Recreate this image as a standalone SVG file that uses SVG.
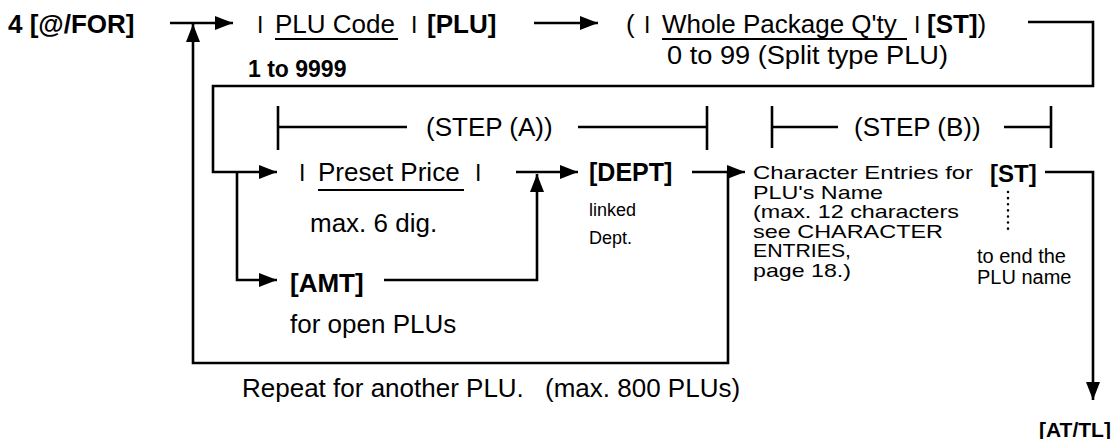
<svg xmlns="http://www.w3.org/2000/svg" width="1115" height="439" viewBox="0 0 1115 439">
<defs>
<marker id="ah" markerUnits="userSpaceOnUse" viewBox="0 0 18 14" refX="18" refY="7" markerWidth="18" markerHeight="14" orient="auto"><path d="M0,0 L18,7 L0,14 z" fill="#000"/></marker>
<style>
text{font-family:"Liberation Sans",Arial,sans-serif;fill:#000}
.b{font-weight:bold}
.m{font-size:26px}
.sm{font-size:19px}
.bar{font-size:23px}
.ln{fill:none;stroke:#000;stroke-width:2.6}
.u{stroke:#000;stroke-width:1.8}
.br{stroke:#000;stroke-width:2.6}
</style>
</defs>
<rect width="1115" height="439" fill="#fff"/>
<g id="connectors" class="ln">
<path d="M170,23 H233" marker-end="url(#ah)"/>
<path d="M534,23 H598" marker-end="url(#ah)"/>
<path d="M1028,22 H1093 V86 H213 V172 H277" marker-end="url(#ah)"/>
<path d="M237,172 V280 H277" marker-end="url(#ah)"/>
<path d="M516,172 H578" marker-end="url(#ah)"/>
<path d="M384,280 H537 V174" marker-end="url(#ah)"/>
<path d="M692,172 H745" marker-end="url(#ah)"/>
<path d="M728,172 V363 H193 V24" marker-end="url(#ah)"/>
<path d="M1045,172 H1093 V400" marker-end="url(#ah)"/>
</g>
<g id="n-for"><text x="8" y="33" class="b m">4 [@/FOR]</text></g>
<g id="n-plu">
<text x="257" y="33" class="bar">I</text>
<text x="275" y="33" class="m">PLU Code</text>
<line x1="275" y1="39" x2="398" y2="39" class="u"/>
<text x="411" y="33" class="bar">I</text>
<text x="427" y="33" class="b m">[PLU]</text>
<text x="248" y="77" class="b" font-size="23">1 to 9999</text>
</g>
<g id="n-wpq">
<text x="626" y="33" class="m">(</text>
<text x="644" y="33" class="bar">I</text>
<text x="662" y="33" class="m">Whole Package Q'ty</text>
<line x1="662" y1="39" x2="907" y2="39" class="u"/>
<text x="914" y="33" class="bar">I</text>
<text x="927" y="33" class="m"><tspan class="b">[ST]</tspan>)</text>
<text x="667" y="64" class="m" textLength="281" lengthAdjust="spacingAndGlyphs">0 to 99 (Split type PLU)</text>
</g>
<g id="n-stepA">
<line x1="278" y1="106" x2="278" y2="150" class="br"/>
<line x1="278" y1="127" x2="407" y2="127" class="br"/>
<text x="426" y="136" class="m">(STEP (A))</text>
<line x1="578" y1="127" x2="707" y2="127" class="br"/>
<line x1="707" y1="106" x2="707" y2="150" class="br"/>
</g>
<g id="n-stepB">
<line x1="772" y1="106" x2="772" y2="148" class="br"/>
<line x1="772" y1="127" x2="838" y2="127" class="br"/>
<text x="854" y="136" class="m">(STEP (B))</text>
<line x1="1004" y1="127" x2="1051" y2="127" class="br"/>
<line x1="1051" y1="106" x2="1051" y2="148" class="br"/>
</g>
<g id="n-preset">
<text x="299" y="181" class="bar">I</text>
<text x="318" y="181" class="m">Preset Price</text>
<line x1="318" y1="190" x2="464" y2="190" class="u"/>
<text x="475" y="181" class="bar">I</text>
<text x="310" y="232" class="m">max. 6 dig.</text>
</g>
<g id="n-amt">
<text x="290" y="292" class="b m">[AMT]</text>
<text x="290" y="333" class="m">for open PLUs</text>
</g>
<g id="n-dept">
<text x="589" y="181" class="b" font-size="25">[DEPT]</text>
<text x="589" y="216" font-size="18">linked</text>
<text x="589" y="244" font-size="18">Dept.</text>
</g>
<g id="n-char" class="sm">
<text x="753" y="179" textLength="220" lengthAdjust="spacingAndGlyphs">Character Entries for</text>
<text x="753" y="199" textLength="130" lengthAdjust="spacingAndGlyphs">PLU's Name</text>
<text x="753" y="218" textLength="206" lengthAdjust="spacingAndGlyphs">(max. 12 characters</text>
<text x="753" y="238" textLength="190" lengthAdjust="spacingAndGlyphs">see CHARACTER</text>
<text x="753" y="257" textLength="98" lengthAdjust="spacingAndGlyphs">ENTRIES,</text>
<text x="753" y="277" textLength="98" lengthAdjust="spacingAndGlyphs">page 18.)</text>
</g>
<g id="n-st2">
<text x="990" y="182" class="b" font-size="24">[ST]</text>
<line x1="1008" y1="192" x2="1008" y2="233" stroke="#000" stroke-width="2.5" stroke-dasharray="0.1,6" stroke-linecap="round"/>
<text x="977" y="263" font-size="20">to end the</text>
<text x="977" y="284" font-size="20">PLU name</text>
</g>
<g id="n-repeat">
<text y="397" class="m"><tspan x="242">Repeat for another PLU.</tspan><tspan x="545">(max. 800 PLUs)</tspan></text>
</g>
<g id="n-attl"><text x="1039" y="437" class="b" font-size="21">[AT/TL]</text></g>
</svg>
